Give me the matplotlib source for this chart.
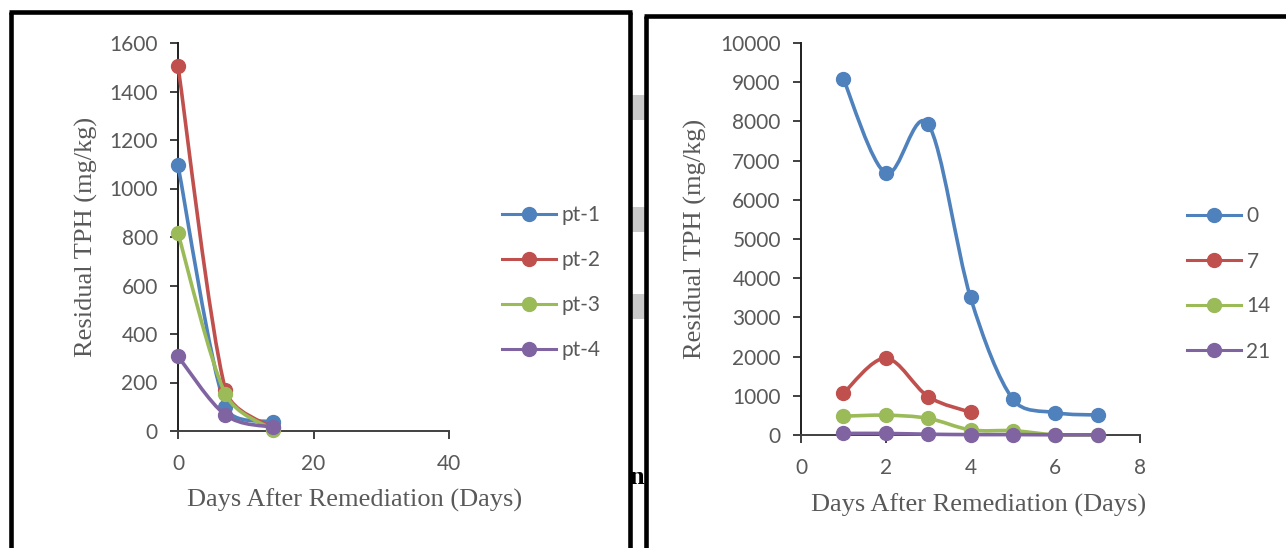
import numpy as np
import matplotlib
matplotlib.use("Agg")
import matplotlib.pyplot as plt
from matplotlib.path import Path
from matplotlib.patches import PathPatch, Rectangle
from matplotlib.lines import Line2D

# ---------------- data ----------------
left_days = [0, 7, 14]
left_labels = ["pt-1", "pt-2", "pt-3", "pt-4"]
pt1 = [1095, 100, 37]
pt2 = [1505, 170, 12]
pt3 = [815, 152, 5]
pt4 = [308, 66, 16]
left_series = [pt1, pt2, pt3, pt4]
left_xticks = [0, 20, 40]
left_yticks = [0, 200, 400, 600, 800, 1000, 1200, 1400, 1600]

right_labels = ["0", "7", "14", "21"]
s0_days = [1, 2, 3, 4, 5, 6, 7]
s0 = [9080, 6680, 7930, 3510, 910, 570, 510]
s7_days = [1, 2, 3, 4]
s7 = [1065, 1960, 980, 580]
s14_days = [1, 2, 3, 4, 5, 6, 7]
s14 = [480, 505, 425, 130, 110, 5, 0]
s21_days = [1, 2, 3, 4, 5, 6, 7]
s21 = [40, 40, 20, 10, 10, 5, 5]
right_xticks = [0, 2, 4, 6, 8]
right_yticks = list(range(0, 10001, 1000))

colors = ["#4F81BD", "#C0504D", "#9BBB59", "#8064A2"]
xlabel_text = "Days After Remediation (Days)"
ylabel_text = "Residual TPH (mg/kg)"

# ---------------- layout helpers ----------------
W, H = 1286, 548
fig = plt.figure(figsize=(W / 100, H / 100), dpi=100)
fig.patch.set_facecolor("white")


def fx(px):
    return px / W


def fy(py):
    return 1 - py / H


TICK_FONT = "Lato"
SERIF = "Liberation Serif"
GRAY = "#595959"
LW = 2.6
MS = 10


def smooth_path(ax, x, y):
    """Excel-like smoothed line: Catmull-Rom Bezier built in screen space,
    with handle lengths limited by the adjacent segment lengths."""
    data = np.column_stack([np.asarray(x, float), np.asarray(y, float)])
    pts = ax.transData.transform(data)
    n = len(pts)
    k = 0.4
    out_h = []
    in_h = []
    for i in range(n):
        if 0 < i < n - 1:
            t = pts[i + 1] - pts[i - 1]
            tl = np.linalg.norm(t)
            d = t / tl
            base = tl / 6.0
            lin = min(base, np.linalg.norm(pts[i] - pts[i - 1]) * k)
            lout = min(base, np.linalg.norm(pts[i + 1] - pts[i]) * k)
            in_h.append(pts[i] - d * lin)
            out_h.append(pts[i] + d * lout)
        elif i == 0:
            in_h.append(pts[i])
            out_h.append(pts[i] + (pts[i + 1] - pts[i]) / 6.0)
        else:
            in_h.append(pts[i] - (pts[i] - pts[i - 1]) / 6.0)
            out_h.append(pts[i])
    verts = [pts[0]]
    codes = [Path.MOVETO]
    for i in range(n - 1):
        verts += [out_h[i], in_h[i + 1], pts[i + 1]]
        codes += [Path.CURVE4] * 3
    verts = ax.transData.inverted().transform(np.array(verts))
    return Path(verts, codes)


def style_axes(ax, x0, x1, y0, y1, xticks, yticks):
    ax.set_xlim(x0, x1)
    ax.set_ylim(y0, y1)
    ax.set_xticks(xticks)
    ax.set_yticks(yticks)
    for s in ["top", "right"]:
        ax.spines[s].set_visible(False)
    ax.spines["left"].set_color("#1f1f1f")
    ax.spines["bottom"].set_color("#404040")
    ax.spines["left"].set_linewidth(1.4)
    ax.spines["bottom"].set_linewidth(1.4)
    ax.tick_params(direction="out", length=5.5, width=1.4, color="#404040",
                   labelsize=15, labelcolor=GRAY, pad=9)
    ax.tick_params(axis="x", pad=11)
    for lab in ax.get_xticklabels() + ax.get_yticklabels():
        lab.set_fontfamily(TICK_FONT)
    ax.patch.set_alpha(0)


def draw_series(ax, xs, ys, color, z):
    p = PathPatch(smooth_path(ax, xs, ys), facecolor="none", edgecolor=color,
                  lw=LW, capstyle="round", joinstyle="round", zorder=z,
                  clip_on=False)
    ax.add_patch(p)
    ax.plot(xs, ys, linestyle="none", marker="o", markersize=MS,
            color=color, zorder=z + 0.5, clip_on=False)


def make_legend(ax, labels, x_px, y_px):
    handles = [Line2D([0], [0], color=c, lw=2.2, marker="o", markersize=MS)
               for c in colors]
    leg = ax.legend(handles, labels, loc="center left",
                    bbox_to_anchor=(fx(x_px), fy(y_px)),
                    bbox_transform=fig.transFigure, frameon=False,
                    borderpad=0, borderaxespad=0, handlelength=2.6,
                    handletextpad=0.25, labelspacing=1.2,
                    prop={"family": TICK_FONT, "size": 15})
    for t in leg.get_texts():
        t.set_color(GRAY)


# ---------------- decorations (panel frames etc.) ----------------
for (x0, y0, y1) in [(631, 95, 120), (631, 207, 232), (631, 294, 319)]:
    fig.add_artist(Rectangle((fx(x0), fy(y1)), fx(14), (y1 - y0) / H,
                             transform=fig.transFigure, facecolor="#c9c9c9",
                             edgecolor="none", zorder=1))
fig.text(fx(637), fy(477), "n", family=SERIF, fontweight="bold", fontsize=19,
         ha="center", va="center", color="black", zorder=2)

frame_lw = 3.3
frame_lines = [
    ([10.5, 10.5], [11.5, 548]),
    ([8.5, 631.5], [11.5, 11.5]),
    ([629.5, 629.5], [11.5, 548]),
    ([645.5, 645.5], [15.5, 548]),
    ([643.5, 1286], [15.5, 15.5]),
]
for xs, ys in frame_lines:
    fig.add_artist(Line2D([fx(v) for v in xs], [fy(v) for v in ys],
                          transform=fig.transFigure, color="black",
                          lw=frame_lw, solid_capstyle="butt", zorder=3))

# ---------------- left chart ----------------
axL = fig.add_axes([fx(178), fy(431), (449 - 178) / W, (431 - 43) / H])
style_axes(axL, 0, 40, 0, 1600, left_xticks, left_yticks)
for i, (vals, c) in enumerate(zip(left_series, colors)):
    draw_series(axL, left_days, vals, c, 3 + i)
make_legend(axL, left_labels, 502, 282.5)
axL.set_xlabel(xlabel_text, family=SERIF, fontsize=19, color=GRAY)
axL.set_ylabel(ylabel_text, family=SERIF, fontsize=19, color=GRAY)
axL.xaxis.set_label_coords((355 - 178) / (449 - 178), (431 - 500) / (431 - 43))
axL.yaxis.set_label_coords((86 - 178) / (449 - 178), 0.5)
axL.xaxis.label.set_va("center")
axL.yaxis.label.set_va("center")

# ---------------- right chart ----------------
axR = fig.add_axes([fx(801), fy(435), (1140 - 801) / W, (435 - 43) / H])
style_axes(axR, 0, 8, 0, 10000, right_xticks, right_yticks)
right_series = [(s0_days, s0), (s7_days, s7), (s14_days, s14), (s21_days, s21)]
for i, ((xs, ys), c) in enumerate(zip(right_series, colors)):
    draw_series(axR, xs, ys, c, 3 + i)
make_legend(axR, right_labels, 1187, 284)
axR.set_xlabel(xlabel_text, family=SERIF, fontsize=19, color=GRAY)
axR.set_ylabel(ylabel_text, family=SERIF, fontsize=19, color=GRAY)
axR.xaxis.set_label_coords((979 - 801) / (1140 - 801), (435 - 505) / (435 - 43))
axR.yaxis.set_label_coords((695 - 801) / (1140 - 801), 0.5)
axR.xaxis.label.set_va("center")
axR.yaxis.label.set_va("center")

fig.savefig("out.png", dpi=100, facecolor="white")
